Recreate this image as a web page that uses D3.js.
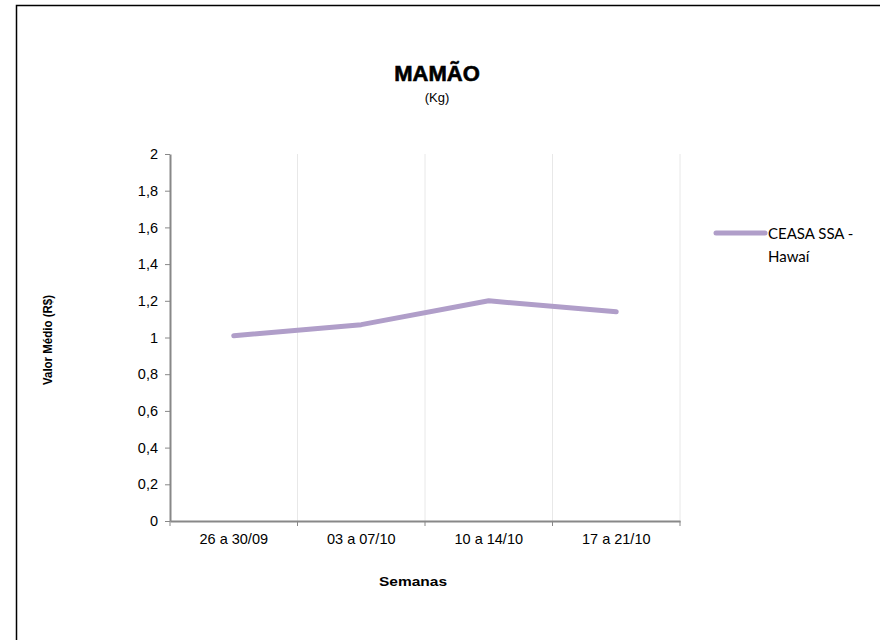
<!DOCTYPE html>
<html>
<head>
<meta charset="utf-8">
<script src="https://cdn.jsdelivr.net/npm/d3@7"></script>
<style>
  body { margin: 0; background: #fff; }
  text { font-family: "Liberation Sans", Arial, sans-serif; }
</style>
</head>
<body>
<svg width="880" height="640"></svg>
<script>
// chart data
var semanas = ["26 a 30/09", "03 a 07/10", "10 a 14/10", "17 a 21/10"];
var valores = [1.01, 1.07, 1.20, 1.14];
var yTicks = [0, 0.2, 0.4, 0.6, 0.8, 1, 1.2, 1.4, 1.6, 1.8, 2];
var serieNome = ["CEASA SSA -", "Hawaí"];

var svg = d3.select("svg");

// outer frame
svg.append("rect")
  .attr("x", 16.5).attr("y", 5.5)
  .attr("width", 900).attr("height", 700)
  .attr("fill", "none")
  .attr("stroke", "#000")
  .attr("stroke-width", 1.5);

// plot box (note: "top" is reserved on window, so use other names)
var plotLeft = 170, plotRight = 680, plotTop = 154, plotBottom = 521;

var x = d3.scaleBand().domain(semanas).range([plotLeft, plotRight]);
var y = d3.scaleLinear().domain([0, 2]).range([plotBottom, plotTop]);

// vertical grid lines at band edges
svg.append("g")
  .selectAll("line")
  .data(semanas)
  .enter().append("line")
    .attr("x1", function(d) { return x(d) + x.bandwidth(); })
    .attr("x2", function(d) { return x(d) + x.bandwidth(); })
    .attr("y1", plotTop)
    .attr("y2", plotBottom)
    .attr("stroke", "#e8e8e8")
    .attr("stroke-width", 1);

// y axis
var yAxis = svg.append("g")
  .attr("transform", "translate(" + plotLeft + ",0)")
  .call(d3.axisLeft(y).tickValues(yTicks).tickSize(5).tickSizeOuter(0).tickPadding(7)
    .tickFormat(function(d) { return String(d).replace(".", ","); }));
yAxis.selectAll("text").attr("font-size", 14.5).attr("fill", "#000")
  .style("font-family", "'Liberation Sans', Arial, sans-serif");
yAxis.select(".domain").attr("stroke", "#888").attr("stroke-width", 2);
yAxis.selectAll(".tick line").attr("stroke", "#888");

// x axis, ticks on the band edges
var xAxis = svg.append("g")
  .attr("transform", "translate(0," + plotBottom + ")")
  .call(d3.axisBottom(x).tickSize(0).tickSizeOuter(0).tickPadding(13));
xAxis.selectAll("text").attr("font-size", 14.5).attr("fill", "#000")
  .style("font-family", "'Liberation Sans', Arial, sans-serif");
xAxis.select(".domain").attr("stroke", "#888").attr("stroke-width", 2);
xAxis.selectAll(".edge")
  .data([plotLeft].concat(semanas.map(function(d) { return x(d) + x.bandwidth(); })))
  .enter().append("line")
    .attr("class", "edge")
    .attr("x1", function(d) { return d; })
    .attr("x2", function(d) { return d; })
    .attr("y1", 0).attr("y2", 5)
    .attr("stroke", "#888");

// data line
var line = d3.line()
  .x(function(d, i) { return x(semanas[i]) + x.bandwidth() / 2; })
  .y(function(d) { return y(d); });

svg.append("path")
  .datum(valores)
  .attr("d", line)
  .attr("fill", "none")
  .attr("stroke", "#b09ec9")
  .attr("stroke-width", 5)
  .attr("stroke-linecap", "round")
  .attr("stroke-linejoin", "round");

// titles
svg.append("text")
  .attr("x", 437).attr("y", 81)
  .attr("text-anchor", "middle")
  .attr("font-size", 22).attr("font-weight", "bold")
  .attr("stroke", "#000").attr("stroke-width", 0.6)
  .text("MAMÃO");

svg.append("text")
  .attr("x", 437).attr("y", 102)
  .attr("text-anchor", "middle")
  .attr("font-size", 13)
  .text("(Kg)");

svg.append("text")
  .attr("x", 413).attr("y", 586)
  .attr("text-anchor", "middle")
  .attr("font-size", 13).attr("font-weight", "bold")
  .attr("textLength", 68).attr("lengthAdjust", "spacingAndGlyphs")
  .text("Semanas");

svg.append("text")
  .attr("transform", "translate(52,340) rotate(-90)")
  .attr("text-anchor", "middle")
  .attr("font-size", 13).attr("font-weight", "bold")
  .attr("textLength", 90).attr("lengthAdjust", "spacingAndGlyphs")
  .text("Valor Médio (R$)");

// legend
svg.append("line")
  .attr("x1", 716).attr("x2", 765)
  .attr("y1", 233).attr("y2", 233)
  .attr("stroke", "#b09ec9")
  .attr("stroke-width", 5)
  .attr("stroke-linecap", "round");

svg.append("g")
  .selectAll("text")
  .data(serieNome)
  .enter().append("text")
    .attr("x", 768)
    .attr("y", function(d, i) { return 239 + i * 23; })
    .attr("font-size", 15)
    .style("font-family", "Lato, 'Open Sans', sans-serif")
    .text(function(d) { return d; });
</script>
</body>
</html>
